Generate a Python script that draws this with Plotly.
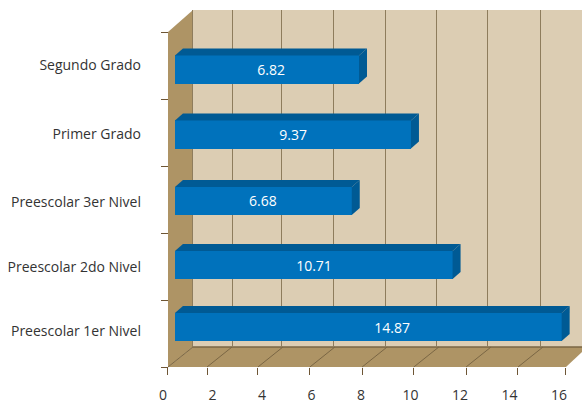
import plotly.graph_objects as go

# ---- data ----
categories = ["Preescolar 1er Nivel", "Preescolar 2do Nivel", "Preescolar 3er Nivel", "Primer Grado", "Segundo Grado"]
values = [14.87, 10.71, 6.68, 9.37, 6.82]
# where each bar's end falls when read against the printed axis ticks
bar_ends = [15.72, 11.5, 7.6, 9.89, 7.88]
tick_labels = ["0", "2", "4", "6", "8", "10", "12", "14", "16"]

# ---- layout constants ----
W, H = 582, 403
X0, XS = 155.3, 25.85   # px of value 0, px per unit
Y0, YS = 367.0, 67.0    # px of row 0, px per row
FONT = "Open Sans"
WALL, SIDE = "#DCCDB3", "#AE9465"
BLUE, DARK = "#0072BC", "#005A94"
GRID, TICK = "#8E7C5C", "#6E5635"

x_range = [(0 - X0) / XS, (W - X0) / XS]
y_range = [(Y0 - H) / YS, Y0 / YS]
px = lambda v: v / W
py = lambda v: 1 - v / H

bar_base = 0.76
bar_centers = [0.597, 1.522, 2.478, 3.47, 4.44]
label_rows = [0.537, 1.493, 2.463, 3.478, 4.508]
bar_h = 0.42
dx, dy = 8 / XS, 7 / YS
value_label_drop = 0.03
value_label_x = [9.16, 6.14, 4.16, 5.33, 4.48]

front_ticks = [0.49, 2, 3.97, 5.98, 8, 10, 12.02, 14.03, 15.88]
back_grid = [0.49, 2, 3.9, 5.93, 7.92, 9.9, 11.9, 13.92]
rows = [0, 1, 2, 3, 4, 5]


def poly(points):
    xs, ys = zip(*points)
    p = "M" + " L".join(f"{px(x):.5f},{py(y):.5f}" for x, y in zip(xs, ys)) + " Z"
    return p


shapes = [
    dict(type="path", xref="paper", yref="paper", layer="below", line_width=0, fillcolor=WALL,
         path=poly([(193, 10), (582, 10), (582, 347), (193, 347)])),
    dict(type="path", xref="paper", yref="paper", layer="below", line_width=0, fillcolor=SIDE,
         path=poly([(168, 32), (193, 10), (193, 347), (168, 367)])),
    dict(type="path", xref="paper", yref="paper", layer="below", line_width=0, fillcolor=SIDE,
         path=poly([(168, 367), (193, 347), (582, 347), (582, 352), (566, 367)])),
    dict(type="line", xref="paper", yref="paper", layer="below", line=dict(color="#7A6644", width=1.5),
         x0=px(193), x1=px(582), y0=py(347), y1=py(347)),
]

fig = go.Figure()

# back-wall grid subplot (drawn first, under everything)
fig.add_trace(go.Scatter(x=[None], y=[None], xaxis="x", yaxis="y", showlegend=False, hoverinfo="skip"))

# floor lines running from each front tick to the back wall
fx, fy = [], []
for t in front_ticks[:-1]:
    fx += [t, t + 25 / XS, None]
    fy += [0, 20 / YS, None]
fig.add_trace(go.Scatter(x=fx, y=fy, mode="lines", line=dict(color="#7A6644", width=1),
                         xaxis="x2", yaxis="y2", showlegend=False, hoverinfo="skip"))

# bar depth faces, derived from bar ends
for end, c in zip(bar_ends, bar_centers):
    lo, hi = c - bar_h / 2, c + bar_h / 2
    fig.add_trace(go.Scatter(
        x=[bar_base, bar_base + dx, end + dx, end, bar_base],
        y=[hi, hi + dy, hi + dy, hi, hi],
        mode="lines", fill="toself", fillcolor=DARK, line=dict(width=0),
        xaxis="x2", yaxis="y2", showlegend=False, hoverinfo="skip"))
    fig.add_trace(go.Scatter(
        x=[end, end + dx, end + dx, end, end],
        y=[lo, lo + dy, hi + dy, hi, lo],
        mode="lines", fill="toself", fillcolor=DARK, line=dict(width=0),
        xaxis="x2", yaxis="y2", showlegend=False, hoverinfo="skip"))

# bar fronts
fig.add_trace(go.Bar(
    y=bar_centers, x=[e - bar_base for e in bar_ends], base=bar_base, orientation="h",
    width=bar_h, marker=dict(color=BLUE, line_width=0),
    xaxis="x2", yaxis="y2", showlegend=False, hoverinfo="skip"))

# value labels
fig.add_trace(go.Scatter(
    x=value_label_x, y=[c - value_label_drop for c in bar_centers], mode="text",
    text=[f"{v:.2f}" for v in values],
    textfont=dict(family=FONT, size=14, color="#FFFFFF"), textposition="middle center",
    xaxis="x2", yaxis="y2", showlegend=False, hoverinfo="skip"))

# carrier traces for the label axes
fig.add_trace(go.Scatter(x=[None], y=[None], xaxis="x3", yaxis="y2", showlegend=False, hoverinfo="skip"))
fig.add_trace(go.Scatter(x=[None], y=[None], xaxis="x2", yaxis="y3", showlegend=False, hoverinfo="skip"))

fig.update_layout(
    width=W, height=H, margin=dict(l=0, r=0, t=0, b=0, pad=0, autoexpand=False),
    paper_bgcolor="#FFFFFF", plot_bgcolor="rgba(0,0,0,0)", shapes=shapes, bargap=0,
    barmode="overlay", showlegend=False,
    # wall grid
    xaxis=dict(domain=[0, 1], range=[(0 - 180.3) / XS, (W - 180.3) / XS], anchor="y",
               tickmode="array", tickvals=back_grid, showticklabels=False, ticks="",
               showgrid=True, gridcolor=GRID, gridwidth=1, zeroline=False, showline=False),
    yaxis=dict(domain=[py(347), py(10)], range=[0, 1], anchor="x", showgrid=False,
               showticklabels=False, ticks="", zeroline=False, showline=False),
    # main value axis: tick marks along the front of the floor
    xaxis2=dict(domain=[0, 1], range=x_range, anchor="free", position=py(367), side="bottom",
                tickmode="array", tickvals=front_ticks, showticklabels=False, ticks="outside",
                ticklen=7, tickwidth=1, tickcolor=TICK, showgrid=False, zeroline=False, showline=False),
    yaxis2=dict(domain=[0, 1], range=y_range, anchor="free", position=px(168), side="left",
                tickmode="array", tickvals=rows, showticklabels=False, ticks="outside",
                ticklen=7, tickwidth=1, tickcolor=TICK, showgrid=False, zeroline=False, showline=False),
    # printed number labels, spaced as the picture prints them
    xaxis3=dict(domain=[0, 1], range=[(0 - 163) / 24.75, (W - 163) / 24.75], anchor="free",
                overlaying="x2", position=py(385), side="bottom",
                tickmode="array", tickvals=[int(t) for t in tick_labels], ticktext=tick_labels,
                ticks="", showgrid=False, zeroline=False, showline=False,
                tickfont=dict(family=FONT, size=14, color="#333333")),
    # category labels
    yaxis3=dict(domain=[0, 1], range=y_range, anchor="free", overlaying="y2",
                position=px(141), side="left",
                tickmode="array", tickvals=label_rows, ticktext=categories,
                ticks="", showgrid=False, zeroline=False, showline=False,
                tickfont=dict(family=FONT, size=14, color="#333333")),
)

fig.write_html("out.html", config={"displayModeBar": False}, post_script="document.body.style.margin='0';")
